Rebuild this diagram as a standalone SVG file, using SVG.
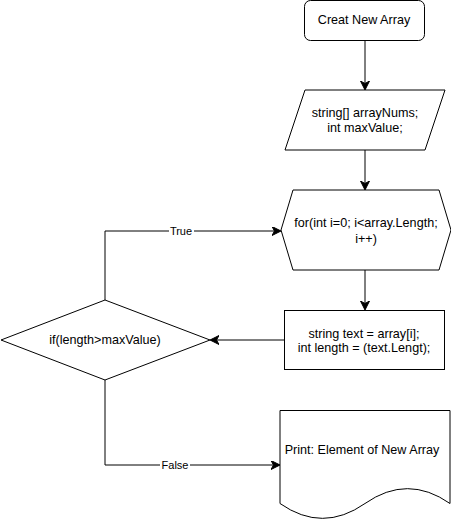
<svg xmlns="http://www.w3.org/2000/svg" width="451" height="521" viewBox="0 0 451 521">
<defs>
<marker id="arr" markerUnits="userSpaceOnUse" markerWidth="10" markerHeight="10" refX="8" refY="4.5" orient="auto">
<path d="M0,0 L9,4.5 L0,9 L2.5,4.5 Z" fill="#000" stroke="#000" stroke-width="1"/>
</marker>
</defs>
<style>
.s{fill:#fff;stroke:#000;stroke-width:1}
.c{fill:none;stroke:#000;stroke-width:1}
text{font-family:"Liberation Sans",Arial,sans-serif;font-size:12.6px;fill:#000;text-anchor:middle;dominant-baseline:central}
.lbl{font-size:11px}
</style>
<rect width="451" height="521" fill="#fff"/>
<g id="connectors">
<path class="c" d="M365,40 L365,89" marker-end="url(#arr)"/>
<path class="c" d="M365,150 L365,189" marker-end="url(#arr)"/>
<path class="c" d="M365,270 L365,309" marker-end="url(#arr)"/>
<path class="c" d="M284,340 L211,340" marker-end="url(#arr)"/>
<path class="c" d="M105,300 L105,231 L280,231" marker-end="url(#arr)"/>
<path class="c" d="M105,380 L105,465 L279,465" marker-end="url(#arr)"/>
<rect x="169" y="224" width="25" height="14" fill="#fff"/>
<text class="lbl" x="181" y="231">True</text>
<rect x="160" y="458" width="30" height="14" fill="#fff"/>
<text class="lbl" x="175" y="465">False</text>
</g>
<g id="start">
<rect class="s" x="304.5" y="0.5" width="120" height="40" rx="6"/>
<text x="364" y="20">Creat New Array</text>
</g>
<g id="declare">
<path class="s" d="M305,90 L445,90 L425,150 L285,150 Z"/>
<text x="365" y="113">string[] arrayNums;</text>
<text x="365" y="128">int maxValue;</text>
</g>
<g id="loop">
<path class="s" d="M281,230 L293,190 L439,190 L451,230 L439,270 L293,270 Z"/>
<text x="366" y="223">for(int i=0; i&lt;array.Length;</text>
<text x="366" y="239">i++)</text>
</g>
<g id="assign">
<rect class="s" x="284.5" y="310.5" width="160" height="59"/>
<text x="364" y="334">string text = array[i];</text>
<text x="364" y="348">int length = (text.Lengt);</text>
</g>
<g id="decision">
<path class="s" d="M1,340 L105,300 L210,340 L105,380 Z"/>
<text x="105" y="340">if(length&gt;maxValue)</text>
</g>
<g id="print">
<path class="s" d="M280,410.5 L450,410.5 L450,503.5 Q407.5,473.8 365,503.5 Q322.5,533.2 280,503.5 Z"/>
<text x="362" y="450">Print: Element of New Array</text>
</g>
</svg>
